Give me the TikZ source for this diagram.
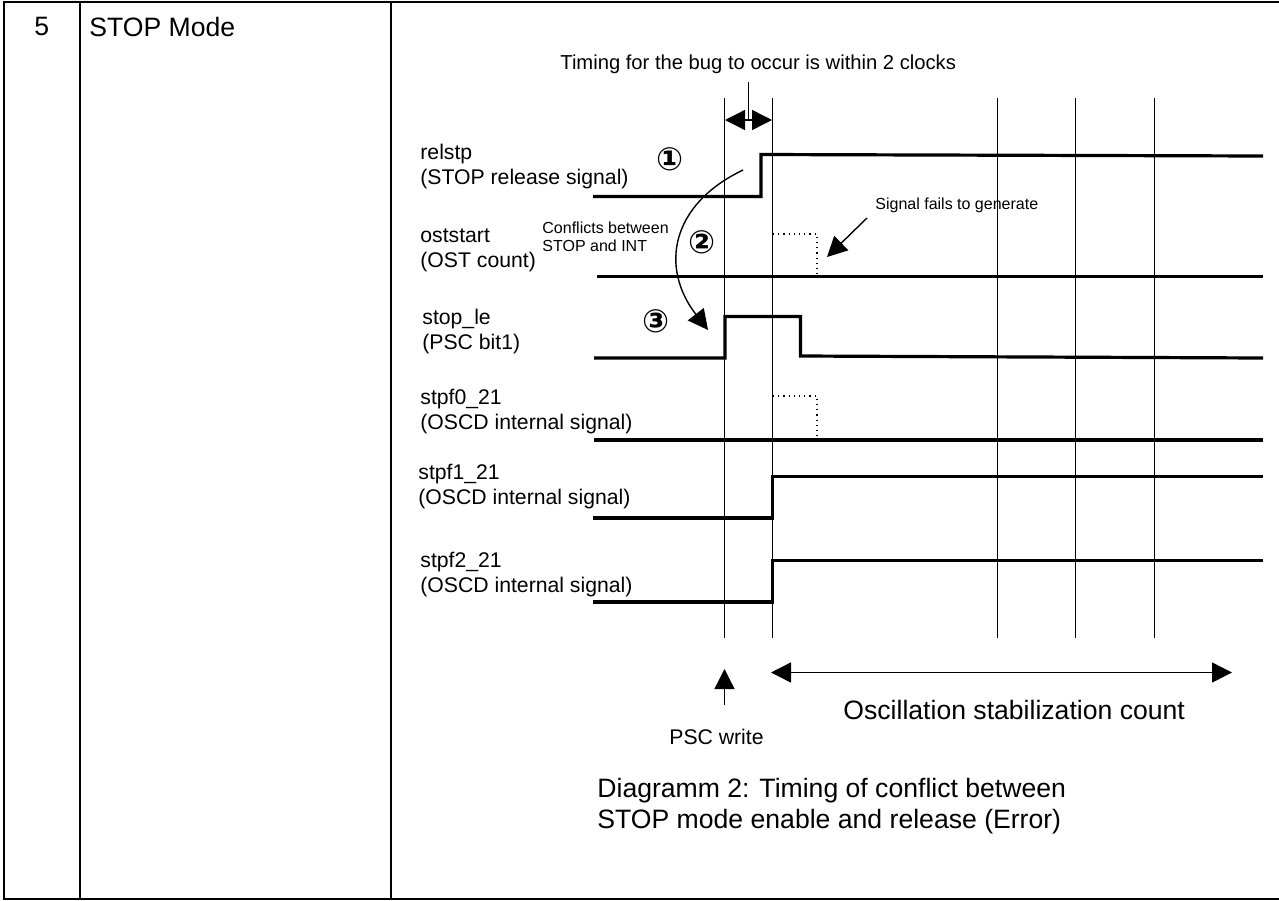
\documentclass[tikz,border=0pt]{standalone}
\usepackage{fontspec}
\setmainfont{Liberation Sans}
\newfontfamily\circfont{DejaVu Sans}
\usetikzlibrary{arrows.meta}
\tikzset{
	sigline/.style={line width=1.6pt},
	gridline/.style={line width=0.5pt},
	missline/.style={line width=0.6pt, dotted},
	tablerule/.style={line width=1pt},
	bigarrow/.style={line width=0.7pt, >={Triangle[length=10pt,width=10pt]}},
	siglabel/.style={anchor=north west, inner sep=0pt, align=left, font=\fontsize{10.6}{12.5}\selectfont},
	smalllabel/.style={anchor=north west, inner sep=0pt, align=left, font=\fontsize{8}{9}\selectfont},
	biglabel/.style={anchor=north west, inner sep=0pt, align=left, font=\fontsize{13.3}{15.5}\selectfont},
	stepnum/.style={inner sep=0pt, font=\circfont\bfseries\fontsize{16}{16}\selectfont}
}
\begin{document}
\begin{tikzpicture}[x=0.5pt, y=-0.5pt]
	\useasboundingbox (0,0) rectangle (1279,900);
	% table
	\draw[tablerule] (1279,1.7) -- (4.3,1.7) -- (4.3,899.3) -- (1279,899.3);
	\draw[tablerule] (79.5,1.7) -- (79.5,899.3);
	\draw[tablerule] (391,1.7) -- (391,899.3);
	\node[biglabel] (num) at (34,17) {5};
	\node[biglabel] (mode) at (89,17) {STOP Mode};
	% clock lines
	\draw[gridline] (724.5,98) -- (724.5,638);
	\draw[gridline] (772.5,98) -- (772.5,638);
	\draw[gridline] (997,98) -- (997,638);
	\draw[gridline] (1075,98) -- (1075,638);
	\draw[gridline] (1154,98) -- (1154,638);
	% signals
	\draw[sigline] (593,196.5) -- (761,196.5) -- (761,154.5) -- (1263,156);
	\draw[sigline] (597,276.5) -- (1263,276.5);
	\draw[sigline] (594,358) -- (725,358) -- (725,316.5) -- (800.5,316.5) -- (800.5,356) -- (1263,358);
	\draw[sigline] (594,440) -- (1263,440);
	\draw[sigline] (593,518) -- (772.5,518) -- (772.5,476.5) -- (1263,476.5);
	\draw[sigline] (593,602) -- (772.5,602) -- (772.5,560.5) -- (1263,560.5);
	% signals that never come
	\draw[missline] (773,234) -- (817,234) -- (817,275);
	\draw[missline] (773,396) -- (817,396) -- (817,438);
	% signal names
	\node[siglabel] (relstp) at (420,144) {relstp\\(STOP release signal)};
	\node[siglabel] (oststart) at (420,228) {oststart\\(OST count)};
	\node[siglabel] (stople) at (422,308.5) {stop\_le\\(PSC bit1)};
	\node[siglabel] (stpfzero) at (420,388.5) {stpf0\_21\\(OSCD internal signal)};
	\node[siglabel] (stpfone) at (418,464) {stpf1\_21\\(OSCD internal signal)};
	\node[siglabel] (stpftwo) at (420,551.5) {stpf2\_21\\(OSCD internal signal)};
	\node[smalllabel] (conflict) at (542,221) {Conflicts between\\STOP and INT};
	\node[smalllabel] (fails) at (875,198) {Signal fails to generate};
	\node[stepnum] (one) at (670,159) {①};
	\node[stepnum] (two) at (702,242) {②};
	\node[stepnum] (three) at (656,321) {③};
	% window of 2 clocks
	\node[anchor=north west, inner sep=0pt, font=\fontsize{10.1}{12}\selectfont] (window) at (560,54) {Timing for the bug to occur is within 2 clocks};
	\coordinate (windowtop) at (748.5,82);
	\coordinate (windowmid) at (748.5,120);
	\coordinate (windowleft) at (725,120);
	\coordinate (windowright) at (772,120);
	\draw[gridline] (windowtop) -- (windowmid);
	\draw[bigarrow, <->] (windowleft) -- (windowright);
	% arrows
	\coordinate (causestart) at (743,170);
	\coordinate (causeend) at (708,330);
	\draw[bigarrow, ->] (causestart) .. controls (670,205) and (660,268) .. (causeend);
	\coordinate (failstart) at (867,218);
	\coordinate (failend) at (827,257);
	\draw[bigarrow, ->] (failstart) -- (failend);
	\coordinate (writestart) at (724.5,705);
	\coordinate (writeend) at (724.5,669);
	\draw[bigarrow, ->] (writestart) -- (writeend);
	\coordinate (countleft) at (771,672.5);
	\coordinate (countright) at (1232,672.5);
	\draw[bigarrow, <->] (countleft) -- (countright);
	% bottom texts
	\node[anchor=north west, inner sep=0pt, font=\fontsize{10.6}{12}\selectfont] (write) at (669,729) {PSC write};
	\node[biglabel] (count) at (843,700) {Oscillation stabilization count};
	\node[biglabel, font=\fontsize{13.3}{15.5}\selectfont] (caption) at (597,778) {Diagramm 2: Timing of conflict between\\STOP mode enable and release (Error)};
\end{tikzpicture}
\end{document}
